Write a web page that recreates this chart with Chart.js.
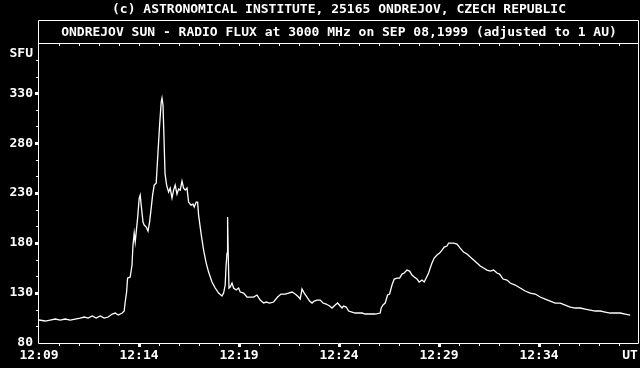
<!DOCTYPE html>
<html>
<head>
<meta charset="utf-8">
<script src="https://cdn.jsdelivr.net/npm/chart.js@4.4.0/dist/chart.umd.min.js"></script>
<style>
html, body { margin: 0; padding: 0; background: #000; }
#wrap { width: 640px; height: 368px; }
</style>
</head>
<body>
<div id="wrap"><canvas id="fluxChart" width="640" height="368"></canvas></div>
<script>
// time is minutes after 12:09 UT, flux in SFU
let minutes = [0,0.31,0.56,0.81,1.06,1.31,1.56,1.81,2.06,2.26,2.46,2.66,2.86,3.06,3.26,3.46,3.66,3.81,3.96,4.16,
  4.26,4.31,4.38,4.43,4.56,4.65,4.70,4.76,4.81,4.86,4.93,5.01,5.06,5.11,5.20,5.26,5.36,5.45,5.53,5.61,
  5.68,5.76,5.86,5.95,6.03,6.11,6.15,6.20,6.25,6.30,6.38,6.48,6.56,6.65,6.73,6.81,6.90,6.98,7.06,7.15,
  7.23,7.31,7.40,7.48,7.60,7.70,7.76,7.86,7.93,7.98,8.10,8.23,8.36,8.48,8.65,8.81,8.98,9.15,9.23,9.31,
  9.35,9.40,9.43,9.46,9.50,9.56,9.65,9.73,9.86,9.98,10.06,10.23,10.40,10.56,10.73,10.90,11.06,11.23,11.36,11.53,
  11.73,11.93,12.10,12.31,12.48,12.65,12.81,12.98,13.06,13.15,13.26,13.40,13.53,13.65,13.76,13.90,14.06,14.20,14.36,14.53,
  14.65,14.81,14.93,15.06,15.15,15.23,15.36,15.48,15.65,15.81,15.98,16.15,16.31,16.56,16.81,17.06,17.11,17.20,17.31,17.43,
  17.53,17.65,17.76,17.90,18.03,18.15,18.26,18.40,18.53,18.65,18.76,18.90,19.01,19.15,19.26,19.36,19.48,19.56,19.65,19.76,
  19.90,20.03,20.15,20.26,20.40,20.48,20.60,20.73,20.90,21.06,21.23,21.40,21.56,21.73,21.90,22.06,22.23,22.40,22.56,22.73,
  22.90,23.03,23.20,23.40,23.56,23.81,24.06,24.31,24.56,24.81,25.06,25.31,25.56,25.81,26.06,26.31,26.56,26.81,27.06,27.31,
  27.56,27.81,28.06,28.31,28.56,28.81,29.06,29.31,29.56];
let sfu = [103,102,103,104,103,104,103,104,105,106,105,107,105,107,105,106,109,110,108,110,
  112,121,131,145,146,158,178,190,181,191,205,225,228,218,201,198,196,192,201,215,
  228,238,240,271,298,321,325,318,285,250,238,231,235,225,233,238,229,234,233,242,
  235,233,235,221,218,219,216,221,221,208,190,173,160,151,141,135,130,127,130,138,
  156,170,206,170,135,136,140,135,133,135,131,130,126,126,126,128,123,120,121,120,
  121,126,129,129,130,131,129,126,124,134,130,126,122,120,122,123,123,120,119,117,
  115,118,120,117,115,117,116,112,111,110,110,110,109,109,109,110,115,118,120,128,
  129,138,144,145,145,149,150,153,152,148,146,144,141,143,141,145,150,155,160,165,
  168,170,173,176,177,180,180,180,179,175,171,169,166,163,160,157,155,153,152,153,
  150,149,144,143,140,138,135,132,130,129,126,124,122,120,120,118,116,115,115,114,
  113,112,112,111,110,110,110,109,108];

let xTickValues = [0, 5, 10, 15, 20, 25, 29.55];
let xTickLabels = ['12:09', '12:14', '12:19', '12:24', '12:29', '12:34', 'UT'];
let yTickValues = [80, 130, 180, 230, 280, 330, 370];
let yTickLabels = ['80', '130', '180', '230', '280', '330', 'SFU'];

let titleLine = '(c) ASTRONOMICAL INSTITUTE, 25165 ONDREJOV, CZECH REPUBLIC';
let subtitleLine = 'ONDREJOV SUN - RADIO FLUX at 3000 MHz on SEP 08,1999 (adjusted to 1 AU)';

const monoFont = { family: '"DejaVu Sans Mono", "Liberation Mono", monospace', size: 13, weight: 'bold', lineHeight: 1.2 };

// black page, box round the title, frame and the little tick marks
const framePlugin = {
    id: 'frame',
    beforeDraw(chart) {
        const c = chart.ctx;
        c.save();
        c.fillStyle = '#000';
        c.fillRect(0, 0, chart.width, chart.height);
        c.restore();
    },
    afterDraw(chart) {
        const c = chart.ctx, a = chart.chartArea;
        const xs = chart.scales.x, ys = chart.scales.y;
        const L = Math.round(a.left) - 0.5, R = Math.round(a.right) - 0.5;
        const T = Math.round(a.top) + 0.5, B = Math.round(a.bottom) + 0.5;
        c.save();
        c.strokeStyle = '#fff';
        c.fillStyle = '#fff';
        c.lineWidth = 1;
        c.beginPath();
        c.moveTo(L, T - 23); c.lineTo(R, T - 23); c.lineTo(R, B); c.lineTo(L, B); c.lineTo(L, T - 23);
        c.moveTo(L, T); c.lineTo(R, T);
        c.stroke();
        for (let m = 1; m < 30; m++) {
            let px = Math.round(xs.getPixelForValue(m));
            c.fillRect(px, Math.round(a.top) + 1, 1, 2);
            if (m % 5 === 0) c.fillRect(px - 1, Math.round(a.bottom) + 1, 3, 3);
            else c.fillRect(px, Math.round(a.bottom) + 1, 1, 2);
        }
        for (let k = 1; k < 18; k++) {
            let py = Math.round(ys.getPixelForValue(80 + k * 50 / 3));
            if (k % 3 === 0) c.fillRect(Math.round(a.left) - 4, py - 1, 3, 3);
            else c.fillRect(Math.round(a.left) - 3, py, 2, 1);
        }
        c.restore();
    }
};

function fluxChart() {
    let points = minutes.map((m, i) => ({ x: m, y: sfu[i] }));
    new Chart(document.getElementById('fluxChart'), {
        type: 'line',
        data: {
            datasets: [{
                data: points,
                borderColor: '#fff',
                borderWidth: 1.3,
                pointRadius: 0,
                tension: 0,
                fill: false
            }]
        },
        options: {
            responsive: false,
            animation: false,
            devicePixelRatio: 1,
            layout: { padding: { top: 0, right: 1, bottom: 0, left: 0 } },
            plugins: {
                legend: { display: false },
                tooltip: { enabled: false },
                title: {
                    display: true, text: titleLine, color: '#fff', fullSize: false,
                    font: monoFont, padding: { top: 2, bottom: 6 }
                },
                subtitle: {
                    display: true, text: subtitleLine, color: '#fff', fullSize: false,
                    font: monoFont, padding: { top: 1, bottom: 3 }
                }
            },
            scales: {
                x: {
                    type: 'linear', min: 0, max: 30,
                    grid: { display: false, drawTicks: false },
                    border: { display: false },
                    afterBuildTicks: (s) => { s.ticks = xTickValues.map(v => ({ value: v })); },
                    afterFit: (s) => { s.height = 25; s.paddingLeft = 0; s.paddingRight = 0; },
                    ticks: {
                        color: '#fff', font: monoFont, padding: 5, autoSkip: false, maxRotation: 0,
                        callback: (v) => xTickLabels[xTickValues.indexOf(v)]
                    }
                },
                y: {
                    type: 'linear', min: 80, max: 380,
                    grid: { display: false, drawTicks: false },
                    border: { display: false },
                    afterBuildTicks: (s) => { s.ticks = yTickValues.map(v => ({ value: v })); },
                    afterFit: (s) => { s.width = 39; s.paddingTop = 0; s.paddingBottom = 0; },
                    ticks: {
                        color: '#fff', font: monoFont, padding: 6,
                        callback: (v) => yTickLabels[yTickValues.indexOf(v)]
                    }
                }
            }
        },
        plugins: [framePlugin]
    });
}

fluxChart();
</script>
</body>
</html>
